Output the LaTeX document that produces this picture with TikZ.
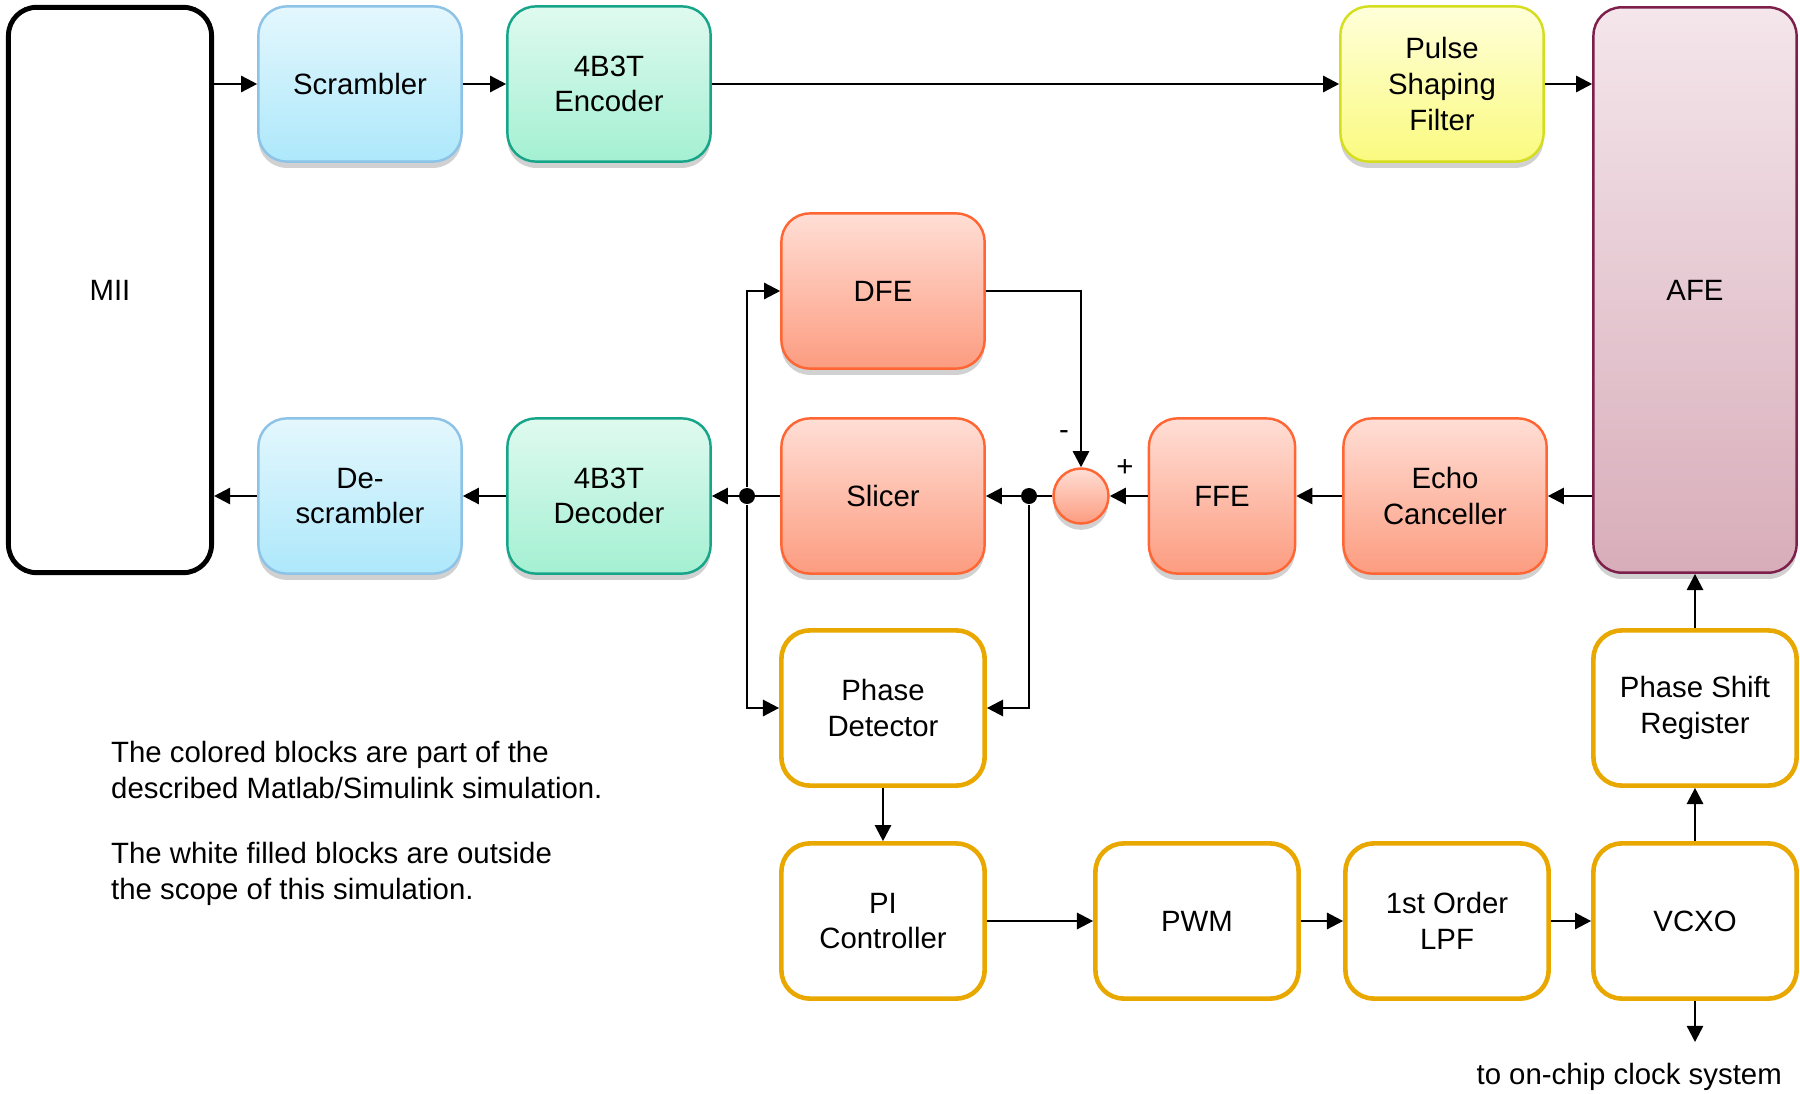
\documentclass[tikz,border=0pt]{standalone}
\usepackage{fontspec}
\setmainfont{Liberation Sans}
\usetikzlibrary{arrows.meta,shadows}

\definecolor{scrtop}{HTML}{E4F7FD}
\definecolor{scrbot}{HTML}{ADE8FB}
\definecolor{scrline}{HTML}{8DC3E6}
\definecolor{enctop}{HTML}{DFFAEF}
\definecolor{encbot}{HTML}{A4F0D3}
\definecolor{encline}{HTML}{17A589}
\definecolor{psftop}{HTML}{FFFFDA}
\definecolor{psfbot}{HTML}{FAFA80}
\definecolor{psfline}{HTML}{D5DE1E}
\definecolor{afetop}{HTML}{F4E6EB}
\definecolor{afebot}{HTML}{D8ADBA}
\definecolor{afeline}{HTML}{7C1F4A}
\definecolor{redtop}{HTML}{FFDED5}
\definecolor{redbot}{HTML}{FC9C80}
\definecolor{redline}{HTML}{FF6633}
\definecolor{clkline}{HTML}{E9A800}

\begin{document}
\begin{tikzpicture}[x=0.01cm,y=-0.01cm,line width=0.7pt,
    >={Triangle[length=4.6pt,width=4.6pt]},
    font=\fontsize{8.35}{10.1}\selectfont]
  \tikzstyle{block}=[rectangle,rounded corners=8pt,minimum width=2.03cm,minimum height=1.55cm,align=center,inner sep=2pt]
  \tikzstyle{shadowed}=[drop shadow={shadow xshift=0pt,shadow yshift=-1.8pt,opacity=0.3,fill=black!60}]
  \tikzstyle{scrbox}=[shadowed,draw=scrline,top color=scrtop,bottom color=scrbot]
  \tikzstyle{encbox}=[shadowed,draw=encline,top color=enctop,bottom color=encbot]
  \tikzstyle{psfbox}=[shadowed,draw=psfline,top color=psftop,bottom color=psfbot]
  \tikzstyle{afebox}=[shadowed,draw=afeline,top color=afetop,bottom color=afebot]
  \tikzstyle{redbox}=[shadowed,draw=redline,top color=redtop,bottom color=redbot]
  \tikzstyle{clkbox}=[draw=clkline,line width=1.3pt,fill=white]
  \tikzstyle{dot}=[circle,fill=black,inner sep=0pt,minimum size=0.16cm]
  \useasboundingbox (0,0) rectangle (1800,1094);

  % transmit path
  \node[block,draw=black,line width=1.4pt,minimum height=5.65cm] (mii) at (110,290) {MII};
  \node[block,scrbox] (scr) at (360,84) {Scrambler};
  \node[block,encbox] (enc) at (609,84) {4B3T\\Encoder};
  \node[block,psfbox] (psf) at (1442,84) {Pulse\\Shaping\\Filter};
  \node[block,afebox,minimum height=5.65cm] (afe) at (1695,290) {AFE};

  % receive path
  \node[block,redbox] (dfe) at (883,291) {DFE};
  \node[block,redbox] (slc) at (883,496) {Slicer};
  \node[circle,redbox,minimum size=0.55cm,inner sep=0pt] (sum) at (1081,496) {};
  \node[block,redbox,minimum width=1.46cm] (ffe) at (1222,496) {FFE};
  \node[block,redbox] (ec) at (1445,496) {Echo\\Canceller};
  \node[block,encbox] (dec) at (609,496) {4B3T\\Decoder};
  \node[block,scrbox] (dscr) at (360,496) {De-\\scrambler};
  \node[dot] (j1) at (747,496) {};
  \node[dot] (j2) at (1029,496) {};
  \node (minus) at (1064,435) {-};
  \node (plus) at (1125,468) {+};

  % clock recovery
  \node[block,clkbox] (pd) at (883,708) {Phase\\Detector};
  \node[block,clkbox] (pi) at (883,921) {PI\\Controller};
  \node[block,clkbox] (pwm) at (1197,921) {PWM};
  \node[block,clkbox] (lpf) at (1447,921) {1st Order\\LPF};
  \node[block,clkbox] (vcxo) at (1695,921) {VCXO};
  \node[block,clkbox] (psr) at (1695,708) {Phase Shift\\Register};
  \coordinate (clk) at (1695,1042);
  \node[anchor=east,inner sep=0pt] (clktxt) at (1783,1077) {to on-chip clock system};

  \node[anchor=west,align=left,inner sep=0pt] (note1) at (110,770) {The colored blocks are part of the\\described Matlab/Simulink simulation.};
  \node[anchor=west,align=left,inner sep=0pt] (note2) at (110,874) {The white filled blocks are outside\\the scope of this simulation.};

  \draw[->] (mii.east |- scr.west) -- (scr.west);
  \draw[->] (scr.east) -- (enc.west);
  \draw[->] (enc.east) -- (psf.west);
  \draw[->] (psf.east) -- (afe.west |- psf.east);
  \draw[->] (afe.west |- ec.east) -- (ec.east);
  \draw[->] (ec.west) -- (ffe.east);
  \draw[->] (ffe.west) -- (sum.east);
  \draw[->] (dfe.east) -| (sum.north);
  \draw[->] (sum.west) -- (slc.east);
  \draw[->] (j2) |- (pd.east);
  \draw[->] (slc.west) -- (dec.east);
  \draw[->] (j1) |- (dfe.west);
  \draw[->] (j1) |- (pd.west);
  \draw[->] (dec.west) -- (dscr.east);
  \draw[->] (dscr.west) -- (mii.east |- dscr.west);

  \draw[->] (pd.south) -- (pi.north);
  \draw[->] (pi.east) -- (pwm.west);
  \draw[->] (pwm.east) -- (lpf.west);
  \draw[->] (lpf.east) -- (vcxo.west);
  \draw[->] (vcxo.north) -- (psr.south);
  \draw[->] (psr.north) -- (afe.south);
  \draw[->] (vcxo.south) -- (clk);
\end{tikzpicture}
\end{document}
